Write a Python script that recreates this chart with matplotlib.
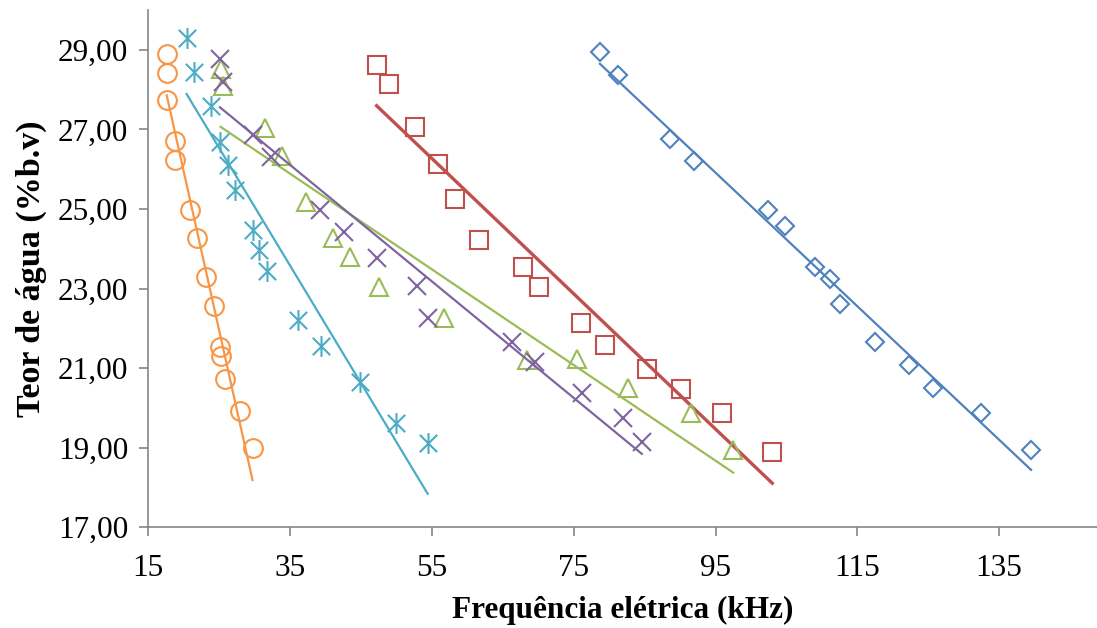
import numpy as np
import matplotlib
matplotlib.use("Agg")
from matplotlib import pyplot as plt
from matplotlib.path import Path
from matplotlib.ticker import FuncFormatter

plt.rcParams['font.family'] = ['Liberation Serif', 'DejaVu Serif']

# frequency (kHz) and water content (% b.v) for each sample series
x_blue = [78.7, 81.3, 88.6, 91.9, 102.4, 104.8, 109.0, 111.2, 112.5, 117.5, 122.3, 125.7, 132.4, 139.5]
y_blue = [28.94, 28.37, 26.75, 26.20, 24.98, 24.56, 23.54, 23.25, 22.62, 21.66, 21.07, 20.49, 19.88, 18.94]

x_red = [47.2, 49.0, 52.6, 55.8, 58.2, 61.7, 67.8, 70.1, 76.0, 79.4, 85.3, 90.1, 95.9, 103.0]
y_red = [28.63, 28.15, 27.07, 26.14, 25.24, 24.21, 23.54, 23.04, 22.14, 21.59, 20.99, 20.48, 19.88, 18.90]

x_green = [25.2, 25.5, 31.5, 33.8, 37.2, 41.1, 43.4, 47.6, 56.7, 68.4, 75.5, 82.7, 91.5, 97.5]
y_green = [28.52, 28.10, 27.04, 26.32, 25.18, 24.27, 23.79, 23.03, 22.25, 21.20, 21.23, 20.50, 19.87, 18.94]

x_purple = [25.1, 25.6, 29.8, 32.3, 39.2, 42.6, 47.3, 52.9, 54.4, 66.3, 69.5, 76.1, 82.0, 84.6]
y_purple = [28.78, 28.19, 26.85, 26.30, 24.98, 24.43, 23.78, 23.06, 22.25, 21.66, 21.16, 20.38, 19.74, 19.14]

x_cyan = [20.4, 21.4, 23.8, 25.1, 26.3, 27.2, 29.7, 30.6, 31.8, 36.1, 39.4, 44.8, 49.9, 54.4]
y_cyan = [29.30, 28.44, 27.58, 26.68, 26.10, 25.47, 24.48, 23.98, 23.44, 22.22, 21.56, 20.64, 19.63, 19.13]

x_orange = [17.6, 17.6, 17.7, 18.7, 18.8, 20.9, 21.9, 23.2, 24.2, 25.1, 25.3, 25.8, 28.0, 29.7]
y_orange = [28.90, 28.41, 27.75, 26.71, 26.24, 24.97, 24.27, 23.29, 22.56, 21.53, 21.30, 20.72, 19.92, 18.98]

xticks = [15, 35, 55, 75, 95, 115, 135]
yticks = [17, 19, 21, 23, 25, 27, 29]

# excel style asterisk: x with a vertical bar
asterisk = Path([(-0.5, -0.5), (0.5, 0.5), (-0.5, 0.5), (0.5, -0.5), (0, -0.6), (0, 0.6)],
                [Path.MOVETO, Path.LINETO, Path.MOVETO, Path.LINETO, Path.MOVETO, Path.LINETO])

series = [
    (x_blue, y_blue, '#4F81BD', 'D', 9.0, 1.6),
    (x_red, y_red, '#C0504D', 's', 13.5, 2.4),
    (x_green, y_green, '#9BBB59', '^', 13.0, 1.6),
    (x_purple, y_purple, '#8064A2', 'x', 13.0, 1.6),
    (x_cyan, y_cyan, '#4BACC6', asterisk, 15.0, 1.6),
    (x_orange, y_orange, '#F79646', 'o', 13.5, 1.6),
]

fig = plt.figure(figsize=(10.97, 6.28), dpi=100)
ax = fig.add_axes([0.1352, 0.1604, 0.8648, 0.8236])

for xs, ys, c, m, ms, lw in series:
    xs = np.array(xs)
    ys = np.array(ys)
    ax.plot(xs, ys, linestyle='none', marker=m, markersize=ms, markerfacecolor='none',
            markeredgecolor=c, markeredgewidth=1.5)
    k, b = np.polyfit(xs, ys, 1)
    xl = np.array([xs.min(), xs.max()])
    ax.plot(xl, k * xl + b, color=c, linewidth=lw)

ax.set_xlim(15, 148.8)
ax.set_ylim(17, 30)
ax.set_xticks(xticks)
ax.set_yticks(yticks)
ax.yaxis.set_major_formatter(FuncFormatter(lambda v, p: f"{v:.2f}".replace('.', ',')))

for s in ['top', 'right']:
    ax.spines[s].set_visible(False)
for s in ['left', 'bottom']:
    ax.spines[s].set_color('#868686')
    ax.spines[s].set_linewidth(1.2)
ax.tick_params(direction='out', length=6.5, width=1.2, color='#868686', labelsize=22.5)
ax.tick_params(axis='x', pad=13)
ax.tick_params(axis='y', pad=8)

ax.set_xlabel('Frequência elétrica (kHz)', fontsize=22.5, fontweight='bold', labelpad=9)
ax.set_ylabel('Teor de água (%b.v)', fontsize=24.5, fontweight='bold', labelpad=8)

fig.savefig('out.png', dpi=100)
